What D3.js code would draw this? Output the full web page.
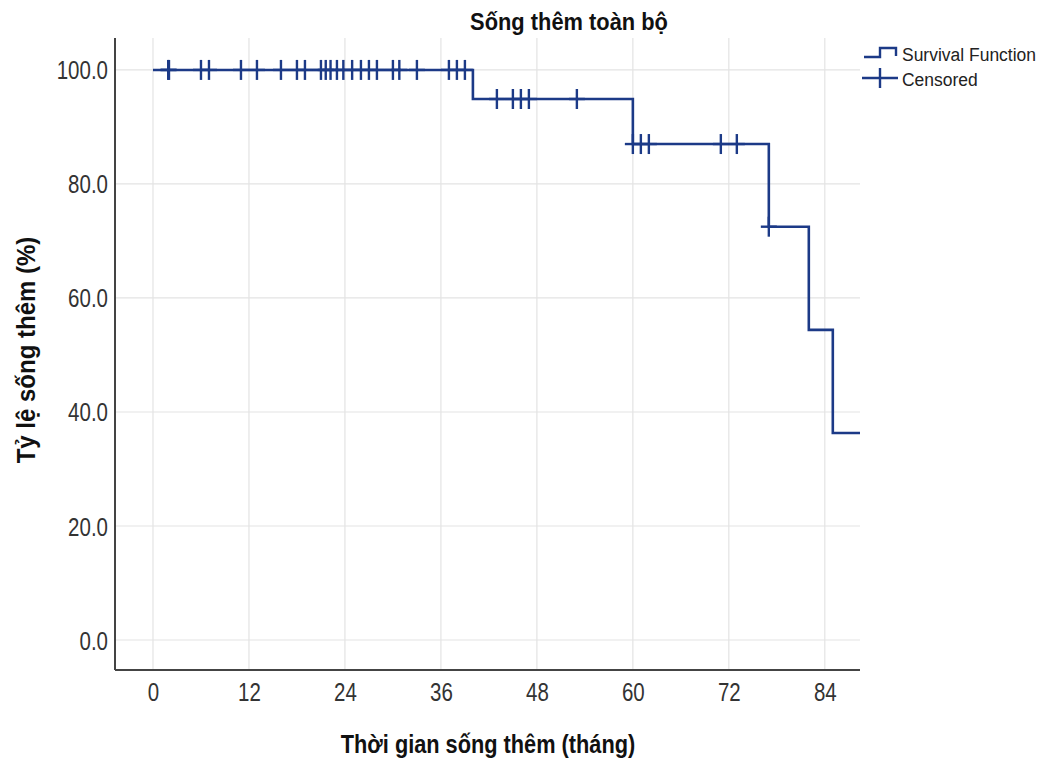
<!DOCTYPE html>
<html>
<head>
<meta charset="utf-8">
<script src="https://cdn.jsdelivr.net/npm/d3@7"></script>
<style>
  html, body { margin: 0; padding: 0; background: #fff; }
  svg { display: block; font-family: "Liberation Sans", Arial, sans-serif; }
</style>
</head>
<body>
<svg id="chart" width="1041" height="763"></svg>
<script>
// ---- data ----
const title = "Sống thêm toàn bộ";
const xTitle = "Thời gian sống thêm (tháng)";
const yTitle = "Tỷ lệ sống thêm (%)";
const xTicks = [0, 12, 24, 36, 48, 60, 72, 84];
const yTicks = [0, 20, 40, 60, 80, 100];
// survival function steps (time, survival % after event)
const stepTimes = [0, 40, 60, 77, 82, 85];
const stepSurvival = [100, 94.9, 87.0, 72.5, 54.4, 36.3];
const endTime = 88.4;
// censored observation times
const censoredTimes = [1.9, 2, 6, 7, 11, 13, 16, 18, 19, 21, 21.6, 22.2, 23, 23.8, 24.9, 26, 27, 28, 30, 30.8, 33,
  37, 38, 39, 43, 45, 46, 47, 53, 60, 61, 62, 71, 73, 77];
const legendLabels = ["Survival Function", "Censored"];

// ---- layout ----
const svg = d3.select("#chart");
const mLeft = 115, mRight = 860, mTop = 38, mBottom = 670;
const x = d3.scaleLinear().domain([-4.75, 88.4]).range([mLeft, mRight]);
const y = d3.scaleLinear().domain([-5.26, 105.6]).range([mBottom, mTop]);
const lineColor = "#1c3a87";
const sx = 0.82; // horizontal text compression

// gridlines
svg.append("g").selectAll("line").data(xTicks).join("line")
  .attr("x1", d => x(d)).attr("x2", d => x(d))
  .attr("y1", mTop).attr("y2", mBottom)
  .attr("stroke", "#e3e3e3").attr("stroke-width", 1.2);
svg.append("g").selectAll("line").data(yTicks).join("line")
  .attr("x1", mLeft).attr("x2", mRight)
  .attr("y1", d => y(d)).attr("y2", d => y(d))
  .attr("stroke", "#e3e3e3").attr("stroke-width", 1.2);

// axes
const yAxis = svg.append("g").attr("transform", `translate(${mLeft},0)`)
  .call(d3.axisLeft(y).tickValues(yTicks).tickFormat(d3.format(".1f")).tickSize(0).tickPadding(0));
yAxis.select(".domain").attr("d", `M0,${mTop}V${mBottom}`).attr("stroke", "#444").attr("stroke-width", 2);
yAxis.selectAll("text").attr("x", 0).attr("dy", "0.36em")
  .attr("transform", `translate(-7,0) scale(${sx},1)`)
  .attr("font-size", 25).attr("fill", "#333").attr("font-family", "Liberation Sans, Arial, sans-serif");

const xAxis = svg.append("g").attr("transform", `translate(0,${mBottom})`)
  .call(d3.axisBottom(x).tickValues(xTicks).tickFormat(d3.format("d")).tickSize(0).tickPadding(0));
xAxis.select(".domain").attr("d", `M${mLeft},0H${mRight}`).attr("stroke", "#444").attr("stroke-width", 2);
xAxis.selectAll("text").attr("y", 0).attr("dy", 0)
  .attr("transform", `translate(0,31) scale(${sx},1)`)
  .attr("font-size", 25).attr("fill", "#333").attr("font-family", "Liberation Sans, Arial, sans-serif");

// survival step line
const pts = stepTimes.map((t, i) => [t, stepSurvival[i]]);
pts.push([endTime, stepSurvival[stepSurvival.length - 1]]);
const line = d3.line().x(d => x(d[0])).y(d => y(d[1])).curve(d3.curveStepAfter);
svg.append("path").datum(pts).attr("d", line)
  .attr("fill", "none").attr("stroke", lineColor).attr("stroke-width", 2.6);

// censored crosses
function survAt(t) {
  let s = stepSurvival[0];
  stepTimes.forEach((st, i) => { if (st <= t) s = stepSurvival[i]; });
  return s;
}
const cg = svg.append("g").attr("stroke", lineColor).attr("stroke-width", 2.4);
censoredTimes.forEach(t => {
  const cx = x(t), cy = y(survAt(t));
  cg.append("line").attr("x1", cx).attr("x2", cx).attr("y1", cy - 10).attr("y2", cy + 10);
  cg.append("line").attr("x1", cx - 8).attr("x2", cx + 8).attr("y1", cy).attr("y2", cy);
});

// titles
svg.append("text").attr("transform", `translate(569,30) scale(0.95,1)`)
  .attr("text-anchor", "middle").attr("font-weight", "bold").attr("font-size", 23)
  .attr("fill", "#111").text(title);
svg.append("text").attr("transform", `translate(488,753) scale(0.87,1)`)
  .attr("text-anchor", "middle").attr("font-weight", "bold").attr("font-size", 25)
  .attr("fill", "#111").text(xTitle);
svg.append("text").attr("transform", `translate(35,350) rotate(-90) scale(0.96,1)`)
  .attr("text-anchor", "middle").attr("font-weight", "bold").attr("font-size", 25)
  .attr("fill", "#111").text(yTitle);

// legend
const lg = svg.append("g");
lg.append("path").attr("d", "M864,57H880V48H896V56")
  .attr("fill", "none").attr("stroke", lineColor).attr("stroke-width", 2.4);
lg.append("line").attr("x1", 862).attr("x2", 898).attr("y1", 78).attr("y2", 78)
  .attr("stroke", lineColor).attr("stroke-width", 2.4);
lg.append("line").attr("x1", 880).attr("x2", 880).attr("y1", 68).attr("y2", 88)
  .attr("stroke", lineColor).attr("stroke-width", 2.4);
legendLabels.forEach((l, i) => {
  lg.append("text").attr("transform", `translate(902,${61 + i * 25}) scale(0.92,1)`)
    .attr("font-size", 19).attr("fill", "#222").text(l);
});
</script>
</body>
</html>
